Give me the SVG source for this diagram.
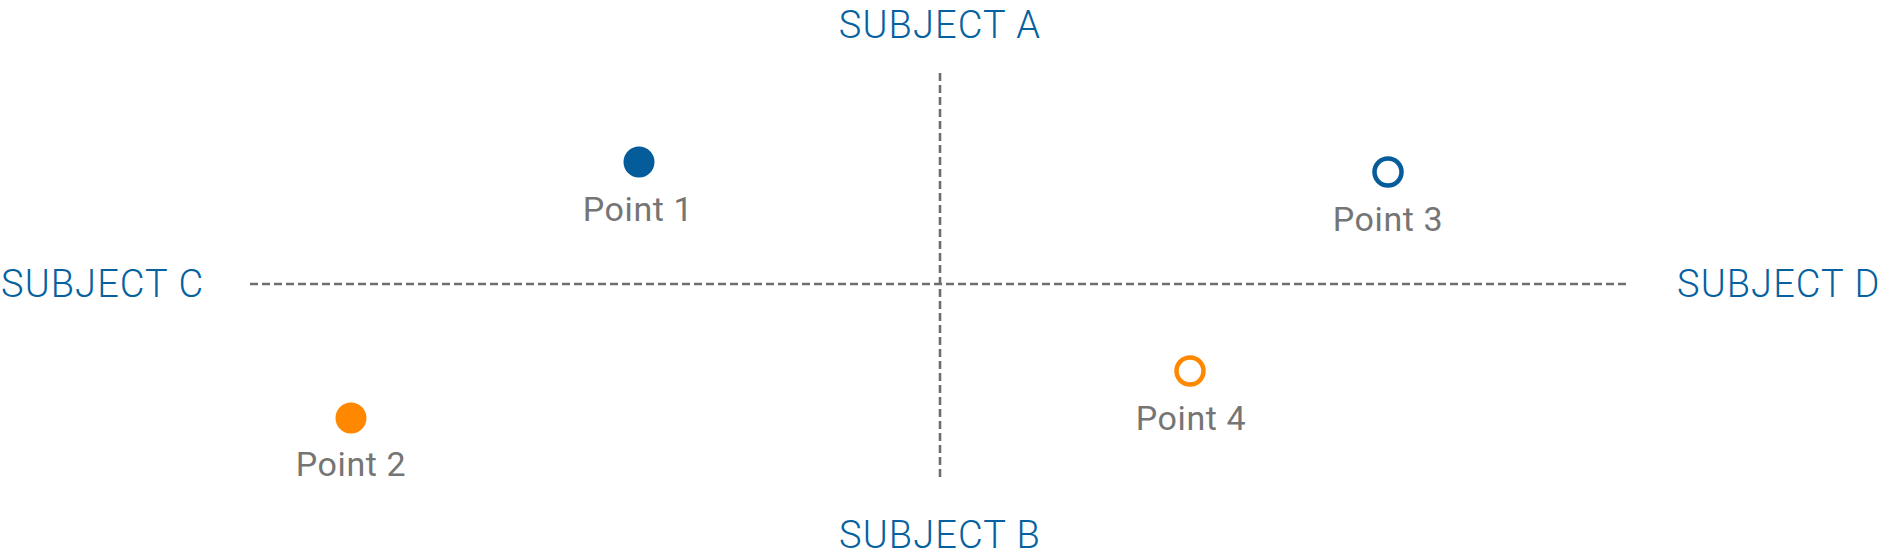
<svg xmlns="http://www.w3.org/2000/svg" width="1880" height="560" viewBox="0 0 1880 560">
<style>
.subj{font-family:Roboto,"Liberation Sans",sans-serif;font-weight:300;font-size:38px;letter-spacing:1.1px;fill:#0561a0}
.lbl{font-family:Roboto,"Liberation Sans",sans-serif;font-weight:400;font-size:34px;letter-spacing:0.6px;fill:#757575;text-anchor:middle}
.axis{stroke:#6e6e6e;stroke-width:2.6;stroke-dasharray:8 4;fill:none}
.blue{fill:#055c9a}
.orange{fill:#ff8800}
.ringb{fill:#fff;stroke:#055c9a;stroke-width:4.5}
.ringo{fill:#fff;stroke:#ff8800;stroke-width:4.5}
</style>
<rect width="1880" height="560" fill="#fff"/>
<g id="connectors">
<line class="axis" x1="940" y1="73" x2="940" y2="478"/>
<line class="axis" x1="250" y1="284" x2="1626" y2="284"/>
</g>
<g id="subject-a"><text class="subj" x="940" y="38" text-anchor="middle">SUBJECT A</text></g>
<g id="subject-b"><text class="subj" x="940" y="548" text-anchor="middle">SUBJECT B</text></g>
<g id="subject-c"><text class="subj" x="1" y="297">SUBJECT C</text></g>
<g id="subject-d"><text class="subj" x="1677" y="297">SUBJECT D</text></g>
<g id="point-1"><circle class="blue" cx="639" cy="162" r="15.5"/><text class="lbl" x="638" y="221">Point 1</text></g>
<g id="point-2"><circle class="orange" cx="351" cy="418" r="15.5"/><text class="lbl" x="351" y="476">Point 2</text></g>
<g id="point-3"><circle class="ringb" cx="1388" cy="172" r="13.5"/><text class="lbl" x="1388" y="231">Point 3</text></g>
<g id="point-4"><circle class="ringo" cx="1190" cy="371" r="13.5"/><text class="lbl" x="1191" y="430">Point 4</text></g>
</svg>
